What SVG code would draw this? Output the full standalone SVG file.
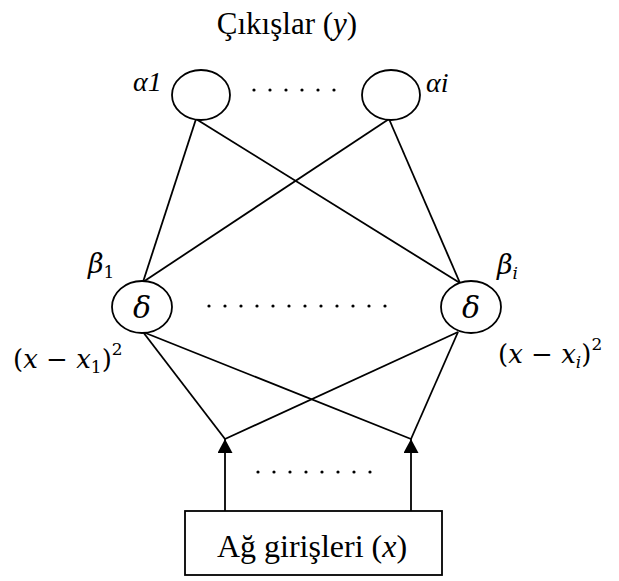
<svg xmlns="http://www.w3.org/2000/svg" width="619" height="581" viewBox="0 0 619 581">
<style>
.ln{stroke:#000;stroke-width:1.8;fill:none}
.nd{stroke:#000;stroke-width:1.8;fill:#fff}
.t{font-family:"Liberation Serif","Times New Roman",serif;fill:#000}
.a{font-family:"Liberation Serif","Times New Roman",serif;font-style:italic;fill:#000}
.m{font-family:"DejaVu Serif",serif;font-style:italic;fill:#000}
.u{font-style:normal}
.dot{fill:#000}
</style>
<defs>
<marker id="arr" viewBox="0 0 14 15" refX="14" refY="7.5" markerWidth="14" markerHeight="15" markerUnits="userSpaceOnUse" orient="auto">
<path d="M0,0 L14,7.5 L0,15 Z" fill="#000"/>
</marker>
</defs>
<text class="t" x="287" y="34" font-size="31" text-anchor="middle">Çıkışlar (<tspan font-style="italic">y</tspan>)</text>
<g id="connectors">
<line class="ln" x1="196" y1="119" x2="143" y2="282"/>
<line class="ln" x1="196" y1="119" x2="460" y2="283"/>
<line class="ln" x1="389" y1="119" x2="143" y2="282"/>
<line class="ln" x1="389" y1="119" x2="460" y2="283"/>
<line class="ln" x1="143" y1="332" x2="225" y2="439"/>
<line class="ln" x1="143" y1="332" x2="411" y2="439"/>
<line class="ln" x1="458" y1="332" x2="225" y2="439"/>
<line class="ln" x1="458" y1="332" x2="411" y2="439"/>
<line class="ln" x1="225" y1="511" x2="225" y2="439" marker-end="url(#arr)"/>
<line class="ln" x1="411" y1="511" x2="411" y2="439" marker-end="url(#arr)"/>
</g>
<g id="alpha1">
<ellipse class="nd" cx="201" cy="95" rx="29" ry="25"/>
<text class="a" x="133" y="91" font-size="28">α1</text>
</g>
<g id="alphai">
<ellipse class="nd" cx="391" cy="95" rx="29" ry="25"/>
<text class="a" x="426" y="92" font-size="28">αi</text>
</g>
<g id="delta1">
<ellipse class="nd" cx="142" cy="307" rx="30" ry="26"/>
<text class="m" x="142" y="318" font-size="30" text-anchor="middle">δ</text>
<text class="m" x="88" y="273" font-size="27">β<tspan class="u" font-size="17" dy="5">1</tspan></text>
<text class="m" x="13" y="368" font-size="26"><tspan class="u">(</tspan>x <tspan class="u">−</tspan> x<tspan class="u" font-size="17" dy="5">1</tspan><tspan class="u" dy="-5">)</tspan><tspan class="u" font-size="17" dy="-13">2</tspan></text>
</g>
<g id="deltai">
<ellipse class="nd" cx="471" cy="307" rx="30" ry="26"/>
<text class="m" x="471" y="318" font-size="30" text-anchor="middle">δ</text>
<text class="m" x="497" y="274" font-size="27">β<tspan font-size="17" dy="5">i</tspan></text>
<text class="m" x="498" y="363" font-size="26"><tspan class="u">(</tspan>x <tspan class="u">−</tspan> x<tspan font-size="17" dy="5">i</tspan><tspan class="u" dy="-5">)</tspan><tspan class="u" font-size="17" dy="-13">2</tspan></text>
</g>
<g id="inputs">
<rect class="nd" x="185" y="511" width="257" height="64"/>
<text class="t" x="312" y="557" font-size="32" text-anchor="middle">Ağ girişleri (<tspan font-style="italic">x</tspan>)</text>
</g>
<g id="dots">
<circle class="dot" cx="254" cy="90" r="1.6"/><circle class="dot" cx="270" cy="90" r="1.6"/><circle class="dot" cx="286" cy="90" r="1.6"/><circle class="dot" cx="302" cy="90" r="1.6"/><circle class="dot" cx="318" cy="90" r="1.6"/><circle class="dot" cx="334" cy="90" r="1.6"/>
<circle class="dot" cx="209" cy="306" r="1.6"/><circle class="dot" cx="225" cy="306" r="1.6"/><circle class="dot" cx="241" cy="306" r="1.6"/><circle class="dot" cx="257" cy="306" r="1.6"/><circle class="dot" cx="273" cy="306" r="1.6"/><circle class="dot" cx="289" cy="306" r="1.6"/><circle class="dot" cx="305" cy="306" r="1.6"/><circle class="dot" cx="321" cy="306" r="1.6"/><circle class="dot" cx="337" cy="306" r="1.6"/><circle class="dot" cx="353" cy="306" r="1.6"/><circle class="dot" cx="369" cy="306" r="1.6"/><circle class="dot" cx="385" cy="306" r="1.6"/>
<circle class="dot" cx="258" cy="472" r="1.6"/><circle class="dot" cx="274" cy="472" r="1.6"/><circle class="dot" cx="290" cy="472" r="1.6"/><circle class="dot" cx="306" cy="472" r="1.6"/><circle class="dot" cx="322" cy="472" r="1.6"/><circle class="dot" cx="338" cy="472" r="1.6"/><circle class="dot" cx="354" cy="472" r="1.6"/><circle class="dot" cx="370" cy="472" r="1.6"/>
</g>
</svg>
